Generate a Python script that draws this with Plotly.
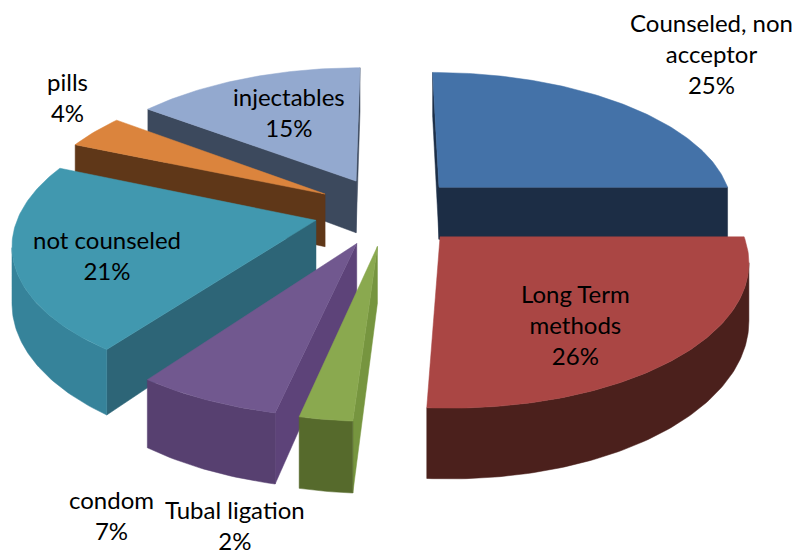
import numpy as np
import plotly.graph_objects as go

labels = ["Counseled, non<br>acceptor", "Long Term<br>methods", "Tubal ligation", "condom",
          "not counseled", "pills", "injectables"]
values = [25, 26, 2.4, 6.6, 21.4, 3.9, 14.7]

top_colors = ["#4472a8", "#aa4644", "#8aa94f", "#71588f", "#4198af", "#db843d", "#93a9cf"]
outer_colors = ["#1d2f47", "#4b201c", "#566a2c", "#574070", "#36839a", "#5f3718", "#3c495d"]
start_colors = ["#1d2f47", "#4b201c", "#76953f", "#5d4379", "#2d6577", "#5f3718", "#3c495d"]
end_colors = ["#1c2d45", "#5a2422", "#566a2c", "#574070", "#2d6577", "#5f3718", "#3c495d"]
draw_order = [0, 6, 5, 4, 3, 2, 1]

label_x = [711, 575, 235, 111, 107, 67, 289]
label_y = [53, 324, 525, 515, 255, 97, 112]

CX, CY, R, TILT, PERSP, DEPTH, DEPTH_PERSP, EXPLODE = 388, 211, 296, 138 / 296, 0.146, 54, 0.2, 0.25


def project(X, Y):
    s = 1 / (1 + PERSP * Y)
    return CX + R * X * s, CY - R * TILT * Y * s, DEPTH / (1 + DEPTH_PERSP * Y)


def area(xs, ys):
    return sum(xs[i] * ys[(i + 1) % len(xs)] - xs[(i + 1) % len(xs)] * ys[i] for i in range(len(xs)))


fig = go.Figure()


def poly(xs, ys, color):
    fig.add_trace(go.Scatter(x=list(xs) + [xs[0]], y=list(ys) + [ys[0]], mode="lines", fill="toself",
                             fillcolor=color, line=dict(color=color, width=0.5),
                             hoverinfo="skip", showlegend=False))


def wall(p0, p1, color):
    x0, y0, d0 = p0
    x1, y1, d1 = p1
    xs, ys = [x0, x1, x1, x0], [y0, y1, y1 + d1, y0 + d0]
    if area(xs, ys) < 0:
        poly(xs, ys, color)


total = sum(values)
cum = np.cumsum([0] + values) / total * 2 * np.pi
for i in draw_order:
    a0, a1 = cum[i], cum[i + 1]
    mid = (a0 + a1) / 2
    ox, oy = EXPLODE * np.sin(mid), EXPLODE * np.cos(mid)
    th = np.linspace(a0, a1, max(int(values[i] * 4), 6))
    apex = project(ox, oy)
    arc = [project(ox + np.sin(t), oy + np.cos(t)) for t in th]
    wall(apex, arc[0], start_colors[i])
    wall(arc[-1], apex, end_colors[i])
    run = []
    for j in range(len(arc) - 1):
        p0, p1 = arc[j], arc[j + 1]
        if area([p0[0], p1[0], p1[0], p0[0]], [p0[1], p1[1], p1[1] + p1[2], p0[1] + p0[2]]) < 0:
            if not run:
                run.append(p0)
            run.append(p1)
    if len(run) > 1:
        poly([p[0] for p in run] + [p[0] for p in run[::-1]],
             [p[1] for p in run] + [p[1] + p[2] for p in run[::-1]], outer_colors[i])
    poly([apex[0]] + [p[0] for p in arc], [apex[1]] + [p[1] for p in arc], top_colors[i])

annotations = [dict(x=lx, y=ly, xref="x", yref="y", text=f"{lab}<br>{round(val)}%", showarrow=False,
                    font=dict(family="Lato", size=24, color="#000000"), align="center")
               for lab, val, lx, ly in zip(labels, values, label_x, label_y)]

fig.update_layout(width=803, height=550, margin=dict(l=0, r=0, t=0, b=0), paper_bgcolor="white",
                  plot_bgcolor="white", showlegend=False, annotations=annotations,
                  xaxis=dict(range=[0, 803], visible=False, fixedrange=True),
                  yaxis=dict(range=[550, 0], visible=False, fixedrange=True))
fig.write_html("out.html", config={"displayModeBar": False},
               post_script="document.body.style.margin='0';")
